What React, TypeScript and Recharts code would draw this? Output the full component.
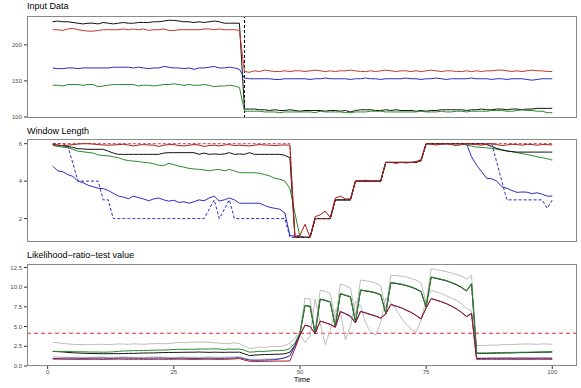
import { LineChart, Line, XAxis, YAxis, ReferenceLine } from 'recharts';

// time index 1..100
const time = Array.from({ length: 100 }, (_, i) => i + 1);
const changePoint = 39;
const lrtThreshold = 4.15;

const inputBlack = [
  232, 233, 232, 232, 231, 230, 229, 230, 230, 229,
  231, 230, 229, 230, 231, 230, 230, 231, 231, 231,
  232, 232, 233, 234, 234, 233, 232, 232, 231, 232,
  231, 232, 233, 232, 230, 230, 230, 230,
  111, 111, 111, 110, 110, 109, 110, 109, 109, 110,
  109, 108, 109, 109, 109, 109, 108, 109, 109, 108,
  109, 107, 109, 110, 110, 110, 109, 109, 110, 109,
  110, 109, 109, 109, 108, 109, 108, 109, 109, 110,
  110, 110, 110, 110, 109, 110, 110, 111, 110, 110,
  111, 111, 110, 111, 111, 110, 111, 111, 112, 112,
  112, 112,
];
const inputRed = [
  221, 221, 220, 222, 223, 221, 220, 219, 219, 220,
  221, 221, 221, 221, 222, 221, 222, 221, 222, 220,
  221, 221, 222, 220, 220, 221, 221, 221, 221, 221,
  222, 222, 221, 222, 221, 221, 221, 220,
  163, 162, 164, 163, 165, 164, 163, 163, 164, 163,
  164, 164, 163, 164, 165, 164, 163, 164, 163, 164,
  164, 165, 164, 163, 163, 164, 163, 164, 165, 164,
  163, 164, 164, 163, 164, 163, 164, 165, 164, 163,
  164, 164, 163, 163, 164, 163, 164, 163, 164, 164,
  165, 165, 164, 163, 164, 163, 164, 165, 164, 164,
  163, 163,
];
const inputBlue = [
  168, 167, 167, 168, 168, 167, 168, 168, 168, 168,
  168, 168, 169, 169, 169, 169, 168, 169, 168, 167,
  168, 168, 170, 169, 168, 168, 167, 168, 166, 168,
  168, 169, 170, 168, 168, 169, 168, 166,
  154, 153, 153, 153, 153, 153, 152, 152, 153, 153,
  153, 153, 153, 152, 153, 153, 154, 153, 153, 153,
  153, 152, 153, 153, 154, 153, 153, 152, 153, 153,
  153, 153, 154, 153, 153, 152, 153, 153, 154, 153,
  152, 153, 153, 153, 153, 154, 153, 153, 153, 152,
  153, 153, 152, 153, 153, 153, 152, 151, 152, 153,
  153, 153,
];
const inputGreen = [
  144, 144, 143, 145, 145, 145, 144, 145, 145, 142,
  143, 144, 145, 145, 145, 145, 145, 143, 144, 144,
  143, 144, 145, 145, 146, 145, 144, 145, 144, 144,
  145, 144, 142, 143, 143, 144, 143, 141,
  108, 108, 108, 108, 107, 107, 107, 106, 107, 107,
  107, 107, 107, 107, 106, 108, 107, 107, 107, 107,
  106, 106, 107, 107, 107, 108, 108, 108, 107, 107,
  107, 107, 107, 107, 107, 108, 107, 107, 107, 108,
  107, 107, 108, 108, 107, 108, 108, 108, 108, 109,
  109, 109, 108, 108, 109, 110, 109, 109, 108, 108,
  106, 106,
];

const wlRedDash = [
  6, 6, 6, 6, 6, 6, 6, 6, 6, 6, 6, 6, 6, 6, 6, 6, 6, 6, 6, 6, 6, 6, 6, 6,
  6, 6, 6, 6, 6, 6, 6, 6, 6, 6, 6, 6, 6, 6, 6, 6, 6, 6, 6, 6, 6, 6, 6, 6,
  1, 1, 1, 1, 2, 2, 2, 2, 3, 3, 3, 3, 4, 4, 4, 4, 4, 4, 5, 5, 5, 5, 5, 5, 5, 5.1,
  6, 6, 6, 6, 6, 6, 6, 6, 6, 6, 6, 6, 6, 6, 6, 6, 6, 6, 6, 6, 6, 6, 6, 6, 6, 6,
];
const wlRed = [
  5.95, 5.92, 5.9, 5.92, 5.95, 5.98, 6, 6, 5.98, 5.95,
  5.93, 5.92, 5.93, 5.95, 5.97, 5.93, 5.88, 5.93, 5.95, 5.93,
  5.92, 5.85, 5.92, 5.95, 5.95, 5.9, 5.88, 5.92, 5.95, 5.93,
  5.85, 5.9, 5.92, 5.88, 5.93, 5.95, 5.9, 5.92, 5.9, 5.88,
  5.92, 5.95, 5.93, 5.92, 5.9, 5.92, 5.93, 5.92,
  1.05, 1.1, 1.7, 1.0, 2.1, 2.2, 2.4, 2.05, 3.1, 3.2, 3.05, 3.05, 4.0,
  4.0, 4.05, 4.0, 4.0, 4.02, 5.0, 5.0, 4.95, 5.0, 4.97, 5.0, 5.05, 5.15,
  6, 5.97, 5.93, 5.97, 6, 5.95, 5.9, 5.95, 6, 5.97,
  5.95, 5.92, 5.97, 6, 5.95, 5.9, 5.93, 5.97, 5.95, 5.92,
  5.97, 5.95, 5.92, 5.95, 5.95, 5.93,
];
const wlBlack = [
  5.96, 5.92, 5.88, 5.85, 5.8, 5.73, 5.72, 5.7, 5.7, 5.7,
  5.7, 5.6, 5.5, 5.43, 5.43, 5.43, 5.43, 5.43, 5.43, 5.43,
  5.43, 5.43, 5.5, 5.52, 5.52, 5.52, 5.52, 5.52, 5.52, 5.43,
  5.5, 5.43, 5.45, 5.43, 5.45, 5.52, 5.43, 5.45, 5.43, 5.52,
  5.43, 5.43, 5.43, 5.43, 5.43, 5.43, 5.38, 5.25,
  1, 1, 1, 1, 2, 2, 2, 2, 3, 3, 3, 3, 4, 4, 4, 4, 4, 4, 5, 5, 5, 5, 5, 5, 5, 5.1,
  6, 6, 6, 6, 6, 6, 6, 6, 6, 6, 6, 6,
  5.95, 5.85, 5.75, 5.68, 5.62, 5.58, 5.55, 5.55, 5.55, 5.55, 5.55, 5.55, 5.55, 5.55,
];
const wlGreen = [
  5.91, 5.85, 5.82, 5.78, 5.7, 5.6, 5.57, 5.53, 5.5, 5.4,
  5.37, 5.35, 5.3, 5.25, 5.15, 5.1, 5.07, 5.05, 5.0, 4.98,
  4.93, 4.85, 4.83, 4.95, 4.88, 4.8, 4.75, 4.68, 4.65, 4.63,
  4.6, 4.55, 4.6, 4.62, 4.55, 4.62, 4.55, 4.45, 4.45, 4.45,
  4.45, 4.42, 4.35, 4.28, 4.15, 4.1, 4.0, 3.6,
  2.3, 1, 1, 1, 2, 2, 2, 2, 3, 3, 3, 3, 4, 4, 4, 4, 4, 4, 5, 5, 5, 5, 5, 5, 5, 5.1,
  6, 6, 6, 6, 6, 6, 6, 6,
  5.93, 5.87, 5.82, 5.8, 5.78, 5.75, 5.7, 5.65, 5.6, 5.57,
  5.52, 5.47, 5.42, 5.37, 5.3, 5.25, 5.2, 5.12,
];
const wlBlue = [
  4.8, 4.55, 4.5, 4.35, 4.25, 4.0, 3.92, 3.78, 3.7, 3.62,
  3.6, 3.5, 3.35, 3.2, 3.15, 3.06, 3.2, 3.12, 3.05, 2.95,
  3.05, 3.1, 3.0, 2.93, 2.98, 2.86, 2.9, 2.82, 2.9, 3.0,
  2.95, 3.1, 3.2, 2.94, 3.0, 3.1, 3.0, 2.82, 2.82, 2.82,
  2.82, 2.82, 2.7, 2.6, 2.55, 2.5, 2.3, 1.1,
  1.05, 1.05, 1, 1, 2, 2, 2, 2, 3, 3, 3, 3, 4, 4, 4, 4, 4, 4, 5, 5, 5, 5, 5, 5, 5, 5.1,
  6, 6, 6, 6, 6, 6, 6, 6, 6,
  5.3, 4.85, 4.5, 4.15, 4.13, 4.0, 3.7, 3.62, 3.5, 3.4,
  3.42, 3.41, 3.33, 3.38, 3.3, 3.2, 3.2,
];
const wlBlueDash = [
  6, 6, 6, 5.85, 4.95, 4, 4, 4, 4, 4,
  3, 3, 2, 2, 2, 2, 2, 2, 2, 2,
  2, 2, 2, 2, 2, 2, 2, 2, 2, 2,
  2, 2.5, 3, 2, 2.5, 3, 2, 2, 2, 2,
  2, 2, 2, 2, 2, 2, 2, 1,
  1, 1, 1, 1, 2, 2, 2, 2, 3, 3, 3, 3, 4, 4, 4, 4, 4, 4, 5, 5, 5, 5, 5, 5, 5, 5.1,
  6, 6, 6, 6, 6, 6, 6, 6, 6, 6, 6, 6, 6, 6,
  5, 4, 3, 3, 3, 3, 3, 3, 3, 3, 2.55, 3,
];

const lrtGreyUpper = [
  3.0, 2.95, 2.85, 2.8, 2.75, 2.72, 2.7, 2.7, 2.72, 2.75,
  2.75, 2.72, 2.75, 2.8, 2.78, 2.75, 2.8, 2.78, 2.75, 2.8,
  2.82, 2.85, 2.82, 2.85, 2.9, 3.0, 2.95, 3.0, 3.05, 3.0,
  3.05, 3.0, 2.95, 2.9, 2.85, 2.82, 2.95, 2.85,
  2.5, 2.2, 2.3, 2.4, 2.35, 2.45, 2.5, 2.45, 2.6, 2.9,
  3.5, 4.4, 8.6, 8.5, 4.3, 9.6, 9.45, 9.2, 5.8, 10.4,
  10.2, 9.9, 6.4, 10.9, 10.8, 10.7, 10.5, 10.2, 7.2, 11.5,
  11.45, 11.4, 11.3, 11.1, 10.9, 10.5, 8.0, 12.35, 12.2, 12.1,
  11.95, 11.8, 11.6, 11.4, 11.0, 11.5,
  2.6, 2.6, 2.62, 2.65, 2.65, 2.7, 2.72, 2.7, 2.75, 2.78,
  2.8, 2.78, 2.75, 2.8, 2.78, 2.75,
];
const lrtGreyLower = [
  1.15, 1.15, 1.12, 1.1, 1.1, 1.12, 1.1, 1.1, 1.12, 1.13,
  1.12, 1.1, 1.1, 1.12, 1.14, 1.12, 1.1, 1.1, 1.12, 1.12,
  1.13, 1.15, 1.12, 1.1, 1.1, 1.12, 1.12, 1.1, 1.1, 1.1,
  1.12, 1.14, 1.12, 1.1, 1.1, 1.12, 1.15, 1.2,
  1.0, 0.85, 0.85, 0.86, 0.88, 0.9, 0.92, 0.95, 1.05, 1.3,
  2.4, 4.0, 3.0, 3.8, 8.5, 5.5, 2.7, 4.5, 7.1, 6.9,
  3.3, 5.0, 8.2, 7.7, 5.5, 4.3, 3.9, 5.5, 8.6, 8.1,
  7.2, 6.2, 5.3, 4.7, 4.3, 5.8, 8.4, 9.6, 9.4, 9.2,
  8.9, 8.6, 8.3, 7.9, 7.3, 7.0,
  1.05, 1.05, 1.05, 1.06, 1.05, 1.06, 1.07, 1.06, 1.05, 1.06,
  1.07, 1.06, 1.05, 1.06, 1.07, 1.06,
];
const lrtGreen = [
  1.85, 1.85, 1.85, 1.85, 1.82, 1.8, 1.8, 1.78, 1.77, 1.77,
  1.75, 1.76, 1.8, 1.85, 1.9, 1.92, 1.95, 1.95, 1.97, 1.98,
  2.0, 2.02, 2.02, 2.05, 2.1, 2.12, 2.1, 2.12, 2.12, 2.15,
  2.15, 2.15, 2.18, 2.15, 2.1, 2.15, 2.12, 2.15,
  2.0, 1.75, 1.8, 1.85, 1.85, 1.9, 1.95, 1.95, 2.0, 2.2,
  2.9, 4.2, 7.7, 7.6, 4.15, 8.5, 8.35, 8.15, 5.0, 9.2,
  9.0, 8.8, 5.6, 9.65, 9.55, 9.45, 9.3, 9.05, 6.7, 10.6,
  10.5, 10.4, 10.25, 10.05, 9.8, 9.45, 7.5, 11.3, 11.15, 11.0,
  10.85, 10.6, 10.35, 10.0, 9.55, 10.45,
  1.65, 1.65, 1.65, 1.68, 1.7, 1.7, 1.72, 1.72, 1.73, 1.75,
  1.75, 1.77, 1.78, 1.8, 1.82, 1.85,
];
const lrtBlack = [
  1.85, 1.82, 1.78, 1.72, 1.68, 1.65, 1.62, 1.6, 1.58, 1.57,
  1.56, 1.56, 1.57, 1.56, 1.58, 1.6, 1.6, 1.62, 1.65, 1.65,
  1.66, 1.68, 1.7, 1.72, 1.72, 1.73, 1.74, 1.75, 1.75, 1.77,
  1.75, 1.73, 1.75, 1.74, 1.73, 1.75, 1.74, 1.76,
  1.55, 1.32, 1.38, 1.42, 1.45, 1.47, 1.48, 1.5, 1.55, 1.75,
  2.6, 4.1, 7.65, 7.55, 4.1, 8.45, 8.3, 8.1, 4.95, 9.15,
  8.95, 8.75, 5.55, 9.6, 9.5, 9.4, 9.25, 9.0, 6.65, 10.55,
  10.45, 10.35, 10.2, 10.0, 9.75, 9.4, 7.45, 11.25, 11.1, 10.95,
  10.8, 10.55, 10.3, 9.95, 9.5, 10.4,
  1.6, 1.6, 1.6, 1.62, 1.63, 1.65, 1.65, 1.66, 1.68, 1.7,
  1.7, 1.72, 1.73, 1.75, 1.75, 1.77,
];
const lrtBlue = [
  0.95, 0.97, 0.98, 1.0, 1.0, 0.98, 0.97, 0.98, 1.0, 1.0,
  1.0, 0.98, 0.97, 1.0, 1.02, 1.0, 1.0, 0.98, 0.97, 1.0,
  1.0, 1.02, 1.0, 0.98, 0.97, 1.0, 1.0, 0.98, 0.97, 0.96,
  0.98, 1.0, 0.98, 0.97, 0.98, 1.0, 1.02, 1.05,
  0.9, 0.75, 0.72, 0.73, 0.75, 0.78, 0.8, 0.9, 1.05, 1.3,
  2.6, 4.0, 5.15, 5.0, 4.12, 5.68, 5.5, 5.28, 4.92, 6.9,
  6.65, 6.35, 5.5, 6.95, 6.75, 6.55, 6.35, 6.1, 6.6, 7.8,
  7.6, 7.4, 7.1, 6.8, 6.42, 6.0, 7.35, 8.55, 8.35, 8.15,
  7.9, 7.6, 7.25, 6.8, 6.3, 6.65,
  0.95, 0.95, 0.96, 0.97, 0.97, 0.98, 0.98, 0.97, 0.98, 0.99,
  0.98, 0.97, 0.98, 0.99, 0.98, 0.97,
];
const lrtRed = [
  0.88, 0.87, 0.86, 0.85, 0.85, 0.84, 0.85, 0.85, 0.86, 0.85,
  0.84, 0.85, 0.86, 0.87, 0.86, 0.85, 0.85, 0.86, 0.85, 0.84,
  0.85, 0.86, 0.85, 0.85, 0.86, 0.87, 0.86, 0.85, 0.84, 0.85,
  0.86, 0.86, 0.85, 0.84, 0.85, 0.86, 0.9, 0.95,
  0.75, 0.6, 0.58, 0.58, 0.6, 0.6, 0.62, 0.62, 0.62, 0.65,
  2.2, 3.9, 5.2, 5.0, 4.1, 5.7, 5.5, 5.25, 4.9, 6.9,
  6.6, 6.25, 5.45, 6.9, 6.7, 6.5, 6.3, 6.05, 6.6, 7.8,
  7.6, 7.4, 7.1, 6.8, 6.4, 5.95, 7.35, 8.55, 8.35, 8.15,
  7.9, 7.6, 7.25, 6.8, 6.25, 6.65,
  0.85, 0.85, 0.85, 0.86, 0.85, 0.85, 0.86, 0.85, 0.85, 0.84,
  0.85, 0.85, 0.86, 0.85, 0.85, 0.85,
];

const inputRows = time.map((t, i) => ({
  t, black: inputBlack[i], red: inputRed[i], blue: inputBlue[i], green: inputGreen[i],
}));
const wlRows = time.map((t, i) => ({
  t, redDash: wlRedDash[i], red: wlRed[i], black: wlBlack[i], green: wlGreen[i],
  blue: wlBlue[i], blueDash: wlBlueDash[i],
}));
const lrtRows = time.map((t, i) => ({
  t, greyUp: lrtGreyUpper[i], greyLo: lrtGreyLower[i], black: lrtBlack[i],
  green: lrtGreen[i], blue: lrtBlue[i], red: lrtRed[i],
}));

const FONT = '"Liberation Sans", Arial, Helvetica, sans-serif';
const xDomain = [-4.1, 104.9];
const tickStyle = { fontSize: 6, fill: '#4d4d4d', fontFamily: FONT };

const C = {
  black: '#111111',
  red: '#c0392f',
  darkRed: '#a81c1c',
  blue: '#2c2cbf',
  green: '#2a8a2a',
  grey: '#bdbdbd',
};

function Title({ text, top }: { text: string; top: number }) {
  return (
    <div style={{
      position: 'absolute', left: 27, top, fontSize: 9, lineHeight: '9px',
      fontFamily: FONT, color: '#000', whiteSpace: 'nowrap',
    }}>{text}</div>
  );
}

function Border({ top, height }: { top: number; height: number }) {
  return (
    <div style={{
      position: 'absolute', left: 27, top, width: 550, height,
      border: '1px solid #8a8a8a', boxSizing: 'border-box', pointerEvents: 'none',
    }} />
  );
}

function line(key: string, color: string, dash?: string) {
  return (
    <Line key={key} type="linear" dataKey={key} stroke={color} strokeWidth={1}
      strokeDasharray={dash} dot={false} activeDot={false} isAnimationActive={false} />
  );
}

export default function App() {
  return (
    <div style={{ position: 'absolute', left: 0, top: 0, width: 581, height: 388, background: '#fff', overflow: 'hidden' }}>
      <Title text="Input Data" top={2} />
      <div style={{ position: 'absolute', left: 0, top: 0 }}>
        <LineChart width={581} height={120} data={inputRows} margin={{ top: 16, right: 4, bottom: 2, left: 0 }}>
          <XAxis dataKey="t" type="number" domain={xDomain} allowDataOverflow hide />
          <YAxis type="number" domain={[98.6, 240]} ticks={[100, 150, 200]} interval={0} width={27}
            tickSize={3} tickMargin={2} axisLine={false} tickLine={{ stroke: '#333' }} tick={tickStyle} allowDataOverflow />
          <ReferenceLine x={changePoint} stroke="#000" strokeDasharray="3 2" strokeWidth={1} />
          {line('black', C.black)}
          {line('red', C.red)}
          {line('blue', C.blue)}
          {line('green', C.green)}
        </LineChart>
      </div>
      <Border top={16} height={102} />

      <Title text="Window Length" top={127} />
      <div style={{ position: 'absolute', left: 0, top: 120 }}>
        <LineChart width={581} height={125} data={wlRows} margin={{ top: 19, right: 4, bottom: 3, left: 0 }}>
          <XAxis dataKey="t" type="number" domain={xDomain} allowDataOverflow hide />
          <YAxis type="number" domain={[0.75, 6.25]} ticks={[2, 4, 6]} interval={0} width={27}
            tickSize={3} tickMargin={2} axisLine={false} tickLine={{ stroke: '#333' }} tick={tickStyle} allowDataOverflow />
          {line('blueDash', C.blue, '3 2')}
          {line('blue', C.blue)}
          {line('green', C.green)}
          {line('black', C.black)}
          {line('redDash', C.red, '3 2')}
          {line('red', C.darkRed)}
        </LineChart>
      </div>
      <Border top={139} height={103} />

      <Title text="Likelihood−ratio−test value" top={251} />
      <div style={{ position: 'absolute', left: 0, top: 245 }}>
        <LineChart width={581} height={143} data={lrtRows} margin={{ top: 19, right: 4, bottom: 0, left: 0 }}>
          <XAxis dataKey="t" type="number" domain={xDomain} allowDataOverflow ticks={[0, 25, 50, 75, 100]}
            interval={0} height={22} tickSize={3} tickMargin={1} axisLine={false}
            tickLine={{ stroke: '#333' }} tick={tickStyle} />
          <YAxis type="number" domain={[0, 12.93]} ticks={[0, 2.5, 5, 7.5, 10, 12.5]} interval={0} width={27}
            tickSize={3} tickMargin={2} axisLine={false} tickLine={{ stroke: '#333' }} tick={tickStyle}
            tickFormatter={(v: number) => v.toFixed(1)} allowDataOverflow />
          <ReferenceLine y={lrtThreshold} stroke="#e8262a" strokeDasharray="4 3" strokeWidth={1} />
          {line('greyUp', C.grey)}
          {line('greyLo', C.grey)}
          {line('black', C.black)}
          {line('green', C.green)}
          {line('blue', C.blue)}
          {line('red', C.darkRed)}
        </LineChart>
      </div>
      <Border top={264} height={102} />
      <div style={{
        position: 'absolute', left: 0, width: 604, top: 376, textAlign: 'center',
        fontSize: 7.5, lineHeight: '7.5px', fontFamily: FONT, color: '#000',
      }}>Time</div>
    </div>
  );
}
